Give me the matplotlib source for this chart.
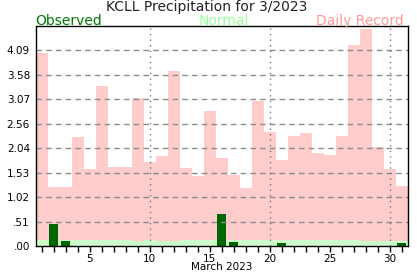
import matplotlib.pyplot as plt
import numpy as np
from matplotlib.ticker import FixedLocator, FuncFormatter

# KCLL daily precipitation, March 2023 (inches)
days = np.arange(1, 32)
record = [4.03, 1.24, 1.24, 2.28, 1.61, 3.34, 1.65, 1.65, 3.09, 1.75,
          1.88, 3.66, 1.63, 1.46, 2.82, 1.84, 1.48, 1.21, 3.03, 2.38,
          1.80, 2.30, 2.36, 1.94, 1.90, 2.30, 4.20, 4.54, 2.07, 1.61,
          1.25]
normal = [0.12, 0.12, 0.12, 0.12, 0.12, 0.12, 0.12, 0.12, 0.10, 0.12,
          0.11, 0.11, 0.12, 0.12, 0.12, 0.12, 0.12, 0.12, 0.12, 0.12,
          0.12, 0.12, 0.12, 0.12, 0.12, 0.12, 0.12, 0.11, 0.11, 0.11,
          0.11]
observed = [0.00, 0.46, 0.10, 0.00, 0.00, 0.00, 0.00, 0.00, 0.00, 0.00,
            0.00, 0.00, 0.00, 0.00, 0.00, 0.66, 0.08, 0.00, 0.00, 0.00,
            0.06, 0.00, 0.00, 0.00, 0.00, 0.00, 0.00, 0.00, 0.00, 0.00,
            0.06]
ymax = 4.6
yticks = [i * ymax / 9 for i in range(9)]

W, H = 417, 276
fig = plt.figure(figsize=(W / 100, H / 100), dpi=100)
ax = fig.add_axes([35.5 / W, 1 - 246 / H, 372 / W, 220 / H])

ax.bar(days, record, width=1.0, color='#ffcccc', zorder=1)
ax.bar(days, normal, width=1.0, color='#ccffcc', zorder=2)
ax.bar(days, observed, width=0.67, color='#006600', zorder=3)

# grid: dashed horizontals, dotted verticals every 10 days
for y in yticks[1:]:
    ax.axhline(y, color='#8c8c8c', ls=(0, (4, 3)), lw=1, zorder=4)
for d in (10, 20, 30):
    ax.axvline(d, color='#777777', ls=(0, (1, 3)), lw=1, zorder=4)

ax.set_xlim(0.5, 31.5)
ax.set_ylim(0, ymax)
ax.xaxis.set_major_locator(FixedLocator(days))
ax.xaxis.set_major_formatter(FuncFormatter(
    lambda v, p: str(int(v)) if int(v) % 5 == 0 else ''))
ax.yaxis.set_major_locator(FixedLocator(yticks))
ax.yaxis.set_major_formatter(FuncFormatter(
    lambda v, p: ('%.2f' % v).lstrip('0')))
ax.tick_params(axis='x', direction='out', length=4, width=1,
               labelsize=7.5, pad=1.5)
ax.tick_params(axis='y', length=0, labelsize=7.5, pad=4)
for s in ax.spines.values():
    s.set_linewidth(1)
    s.set_zorder(5)
ax.set_xlabel('March 2023', fontsize=7.5, labelpad=-1)

fig.text(0.496, 1 - 11 / H, 'KCLL Precipitation for 3/2023',
         ha='center', va='baseline', fontsize=10, color='#222222')
fig.text(35.5 / W, 1 - 24.5 / H, 'Observed', ha='left', va='baseline',
         fontsize=10, color='#007700')
fig.text(224 / W, 1 - 24.5 / H, 'Normal', ha='center', va='baseline',
         fontsize=10, color='#99ff99')
fig.text(404 / W, 1 - 24.5 / H, 'Daily Record', ha='right', va='baseline',
         fontsize=10, color='#ff9999')

fig.savefig('out.png', dpi=100)
